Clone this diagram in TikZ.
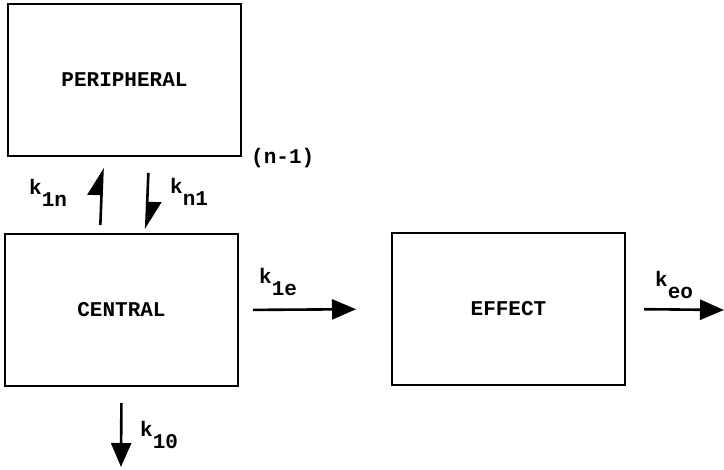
\documentclass[tikz,border=0pt]{standalone}
\usepackage{fontspec}
\setmonofont{Liberation Mono}
\usepackage{tikz}
\usetikzlibrary{arrows.meta, positioning}
\newcommand{\rate}[2]{#1\raisebox{-12pt}{#2}}

\begin{document}
\begin{tikzpicture}[
  x=1pt, y=-1pt,
  every node/.style={font=\ttfamily\bfseries\fontsize{21}{25}\selectfont},
  compart/.style={rectangle, draw=black, line width=2.6pt, outer sep=0pt,
                  minimum width=233pt, minimum height=152pt, align=center},
  lbl/.style={anchor=base west, inner sep=0pt},
  ar/.style={-{Triangle[length=24pt, width=20pt]}, draw=black, line width=2.6pt},
  halfar/.style={-{Triangle[left, length=25pt, width=28pt]}, draw=black, line width=2.6pt}
]
\useasboundingbox (0,0) rectangle (724,470);
\node[compart] (periph) at (124.5,80) {PERIPHERAL};
\node[compart] (central) at (121.5,310) {CENTRAL};
\node[compart] (effect) at (508.5,309) {EFFECT};
\coordinate (out) at (724,310);
\coordinate (elim) at (121,467);
% exchange with the peripheral compartment
\draw[halfar, shorten <=9pt, shorten >=12pt]
  ([xshift=-21.5pt]central.north) -- ([xshift=-21.5pt]periph.south);
\draw[halfar, shorten <=17pt, shorten >=5pt]
  ([xshift=24.5pt]periph.south) -- ([xshift=24.5pt]central.north);
% outflows
\draw[ar, shorten <=15pt, shorten >=36pt] (central.east) -- (effect.west);
\draw[ar, shorten <=19pt] (effect.east) -- (out);
\draw[ar, shorten <=17pt] (central.south) -- (elim);
\node[lbl] (n1) at (251,164) {(n-1)};
\node[lbl] (k1n) at (29,195) {\rate{k}{1n}};
\node[lbl] (kn1) at (170,194) {\rate{k}{n1}};
\node[lbl] (k1e) at (259,284) {\rate{k}{1e}};
\node[lbl] (keo) at (655,287) {\rate{k}{eo}};
\node[lbl] (k10) at (140,437) {\rate{k}{10}};
\end{tikzpicture}
\end{document}
